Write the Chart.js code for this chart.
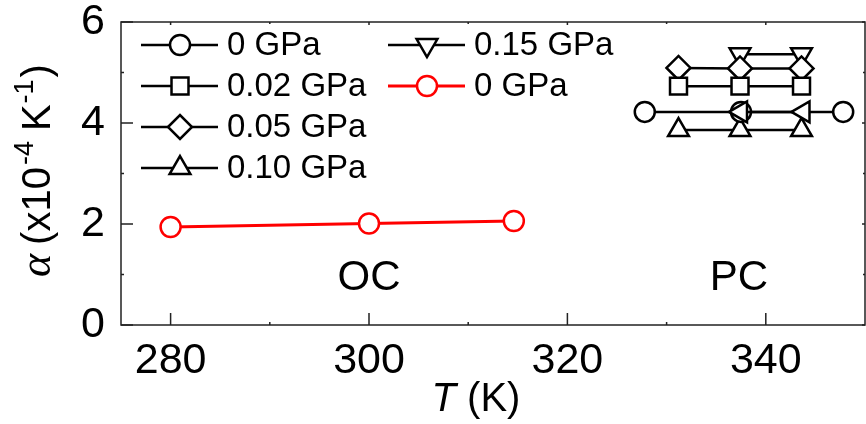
<!DOCTYPE html>
<html>
<head>
<meta charset="utf-8">
<script src="https://cdn.jsdelivr.net/npm/chart.js@4/dist/chart.umd.min.js"></script>
<style>
  html, body { margin: 0; padding: 0; background: #fff; }
  #wrap { width: 866px; height: 424px; }
</style>
</head>
<body>
<div id="wrap"><canvas id="chart" width="866" height="424"></canvas></div>
<script>
// Axes
const xTicks = [280, 300, 320, 340];
const xMinor = [290, 310, 330];
const yTicks = [0, 2, 4, 6];
const yMinor = [1, 3, 5];

// PC phase (black, open symbols)
const pcT_0 = [327.8, 337.5, 347.8];
const pcA_0 = [4.22, 4.22, 4.22];
const pcT_002 = [331.2, 337.4, 343.6];
const pcA_002 = [4.73, 4.73, 4.73];
const pcT_005 = [331.2, 337.4, 343.6];
const pcA_005 = [5.09, 5.08, 5.08];
const pcT_010 = [331.2, 337.4, 343.6];
const pcA_010 = [3.86, 3.86, 3.86];
const pcT_015 = [337.4, 343.6];
const pcA_015 = [5.36, 5.36];
const pcT_left = [337.5, 343.8];
const pcA_left = [4.22, 4.22];

// OC phase (red)
const ocT = [280, 300, 314.6];
const ocA = [1.94, 2.01, 2.06];

const FONT = "'Liberation Sans', Arial, sans-serif";
Chart.defaults.font.family = FONT;
Chart.defaults.color = '#000';

function pts(xs, ys) { return xs.map((x, i) => ({ x: x, y: ys[i] })); }

function series(label, xs, ys, style, rot, r, color, legend) {
    return {
        label: label,
        data: pts(xs, ys),
        showLine: true,
        borderColor: color,
        backgroundColor: '#fff',
        borderWidth: color === '#000' ? 2.5 : 3,
        pointStyle: style,
        rotation: rot,
        pointRadius: r,
        pointHoverRadius: r,
        pointBorderWidth: 2.5,
        pointBorderColor: color,
        pointBackgroundColor: '#fff',
        clip: false,
        inLegend: legend,
    };
}

const datasets = [
    series('0 GPa', pcT_0, pcA_0, 'circle', 0, 10, '#000', true),
    series('0.02 GPa', pcT_002, pcA_002, 'rect', 0, 12, '#000', true),
    series('0.05 GPa', pcT_005, pcA_005, 'rectRot', 0, 12, '#000', true),
    series('0.10 GPa', pcT_010, pcA_010, 'triangle', 0, 12, '#000', true),
    series('0.15 GPa', pcT_015, pcA_015, 'triangle', 180, 12, '#000', true),
    series('0 GPa', ocT, ocA, 'circle', 0, 10, '#ff0000', true),
    series('', pcT_left, pcA_left, 'triangle', 270, 12, '#000', false),
];
datasets[6].order = -1;

function noPad(s) {
    s.paddingTop = 0; s.paddingBottom = 0; s.paddingLeft = 0; s.paddingRight = 0;
}

// frame, inward ticks, labels, legend
const decor = {
    id: 'decor',
    afterDraw(chart) {
        const ctx = chart.ctx;
        const a = chart.chartArea;
        const xs = chart.scales.x, ys = chart.scales.y;
        ctx.save();
        ctx.strokeStyle = '#222';
        ctx.lineWidth = 1.5;
        ctx.strokeRect(a.left, a.top, a.right - a.left, a.bottom - a.top);
        ctx.beginPath();
        xTicks.forEach(v => {
            const p = xs.getPixelForValue(v);
            ctx.moveTo(p, a.bottom); ctx.lineTo(p, a.bottom - 12);
            ctx.moveTo(p, a.top); ctx.lineTo(p, a.top + 3);
        });
        xMinor.forEach(v => {
            const p = xs.getPixelForValue(v);
            ctx.moveTo(p, a.bottom); ctx.lineTo(p, a.bottom - 3);
            ctx.moveTo(p, a.top); ctx.lineTo(p, a.top + 2);
        });
        yTicks.forEach(v => {
            const p = ys.getPixelForValue(v);
            ctx.moveTo(a.left, p); ctx.lineTo(a.left + 12, p);
            ctx.moveTo(a.right, p); ctx.lineTo(a.right - 3, p);
        });
        yMinor.forEach(v => {
            const p = ys.getPixelForValue(v);
            ctx.moveTo(a.left, p); ctx.lineTo(a.left + 3, p);
            ctx.moveTo(a.right, p); ctx.lineTo(a.right - 2, p);
        });
        ctx.stroke();

        // phase labels
        ctx.fillStyle = '#000';
        ctx.font = '42px ' + FONT;
        ctx.textAlign = 'center';
        ctx.textBaseline = 'middle';
        ctx.fillText('OC', xs.getPixelForValue(300), ys.getPixelForValue(0.92));
        ctx.fillText('PC', xs.getPixelForValue(337.3), ys.getPixelForValue(0.92));

        // x title: italic T (K)
        ctx.textBaseline = 'alphabetic';
        ctx.textAlign = 'left';
        const xt = 476, yb = 411;
        ctx.font = 'italic 40px ' + FONT;
        const wT = ctx.measureText('T').width;
        ctx.font = '40px ' + FONT;
        const wK = ctx.measureText(' (K)').width;
        let cx = xt - (wT + wK) / 2;
        ctx.font = 'italic 40px ' + FONT;
        ctx.fillText('T', cx, yb);
        ctx.font = '40px ' + FONT;
        ctx.fillText(' (K)', cx + wT, yb);

        // y title: alpha (x10^-4 K^-1), drawn upward from the bottom
        const SERIF = "'Liberation Serif', 'DejaVu Serif', serif";
        const parts = [
            ['\u03b1', 'italic 44px ' + SERIF, 0, 9],
            ['(x10', '40px ' + FONT, 0, 2],
            ['-4', '27px ' + FONT, -17, 10],
            ['K', '40px ' + FONT, 0, 1],
            ['-1', '27px ' + FONT, -17, 2],
            [')', '40px ' + FONT, 0, 0],
        ];
        ctx.translate(50, 277);
        ctx.rotate(-Math.PI / 2);
        let px = 0;
        parts.forEach(p => {
            ctx.font = p[1];
            ctx.fillText(p[0], px, p[2]);
            px += ctx.measureText(p[0]).width + p[3];
        });
        ctx.restore();

        // legend, two columns
        const cols = [141, 388];
        const rowY = [45, 86, 127, 168];
        const items = chart.data.datasets.filter(d => d.inLegend);
        ctx.save();
        items.forEach((d, i) => {
            const col = i < 4 ? 0 : 1;
            const row = i < 4 ? i : i - 4;
            const x0 = cols[col], y = rowY[row];
            ctx.strokeStyle = d.borderColor;
            ctx.lineWidth = d.borderWidth;
            ctx.beginPath();
            ctx.moveTo(x0, y); ctx.lineTo(x0 + 77, y);
            ctx.stroke();
            ctx.fillStyle = '#fff';
            ctx.lineWidth = d.pointBorderWidth;
            Chart.helpers.drawPoint(ctx, {
                pointStyle: d.pointStyle, rotation: d.rotation,
                radius: d.pointRadius, borderWidth: d.pointBorderWidth
            }, x0 + 39, y);
            ctx.fillStyle = '#000';
            ctx.font = '33px ' + FONT;
            ctx.textAlign = 'left';
            ctx.textBaseline = 'middle';
            ctx.fillText(d.label, x0 + 86, y + 1);
        });
        ctx.restore();
    }
};

new Chart(document.getElementById('chart'), {
    type: 'scatter',
    data: { datasets: datasets },
    options: {
        responsive: false,
        animation: false,
        devicePixelRatio: 1,
        layout: { autoPadding: false, padding: { left: 0, top: 22, right: 1, bottom: 0 } },
        plugins: { legend: { display: false }, tooltip: { enabled: false } },
        scales: {
            x: {
                type: 'linear', min: 275, max: 350,
                grid: { display: false }, border: { display: false },
                afterBuildTicks: s => { s.ticks = xTicks.map(v => ({ value: v })); },
                afterFit: s => { s.height = 99; noPad(s); },
                ticks: { font: { size: 43 }, padding: 2, maxRotation: 0 },
            },
            y: {
                type: 'linear', min: 0, max: 6,
                grid: { display: false }, border: { display: false },
                afterBuildTicks: s => { s.ticks = yTicks.map(v => ({ value: v })); },
                afterFit: s => { s.width = 121; noPad(s); },
                ticks: { font: { size: 43 }, padding: 8 },
            },
        },
    },
    plugins: [decor],
});
</script>
</body>
</html>
